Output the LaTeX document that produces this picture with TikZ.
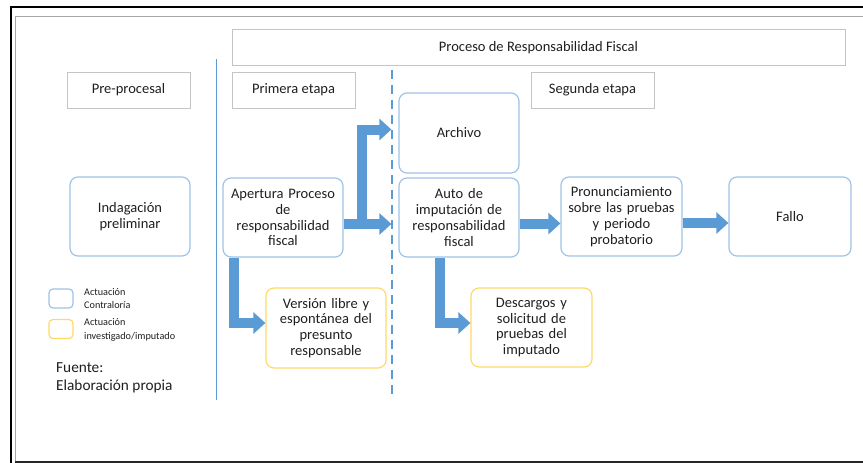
\documentclass[tikz,border=0pt]{standalone}
\usepackage{fontspec}
\setmainfont{Carlito}
\usetikzlibrary{arrows.meta}
\definecolor{txt}{HTML}{1F1F1F}
\definecolor{bluebox}{HTML}{9DC3E6}
\definecolor{yelbox}{HTML}{FFD966}
\definecolor{graybox}{HTML}{C4C4C4}
\definecolor{arrowblue}{HTML}{5B9BD5}
\definecolor{lineblue}{HTML}{5B9BD5}
\begin{document}
\begin{tikzpicture}[x=1pt,y=-1pt,
  font=\fontsize{14.5}{15.8}\selectfont, text=txt,
  header/.style={draw=graybox, line width=1pt, inner sep=0pt, align=center, minimum height=36pt},
  roundbox/.style={line width=1.2pt, rounded corners=8pt, inner sep=0pt, align=center, text width=116pt, minimum width=120pt, minimum height=79pt},
  bluenode/.style={roundbox, draw=bluebox},
  yellownode/.style={roundbox, draw=yelbox},
  legendbox/.style={line width=1.2pt, rounded corners=4pt, minimum width=24pt, minimum height=19pt, inner sep=0pt},
  legendtext/.style={font=\fontsize{10.2}{13.5}\selectfont, align=left, anchor=west, inner sep=0pt},
  bigarrow/.style={draw=arrowblue, line width=10pt, -{Triangle[width=21pt,length=12pt]}},
]
\useasboundingbox (0,0) rectangle (863,463);
% frame
\draw[black, line width=2pt] (10.5,463) -- (10.5,7) -- (863,7);
\draw[gray!70, line width=1pt] (15.5,462) -- (15.5,16) -- (863,16);
\draw[black!85, line width=1.5pt] (15,462) -- (863,462);

% separators
\draw[lineblue, line width=1.5pt] (216.5,59) coordinate (s1) -- (216.5,400) coordinate (s2);
\draw[lineblue, line width=2pt, dash pattern=on 9pt off 6pt] (392,70) coordinate (d1) -- (392,395) coordinate (d2);

% headers
\node[header, minimum width=613pt] (title) at (538.5,47.5) {Proceso de Responsabilidad Fiscal};
\node[header, minimum width=123pt] (pre) at (128.5,90) {Pre-procesal};
\node[header, minimum width=123pt] (primera) at (293.5,90) {Primera etapa};
\node[header, minimum width=123pt] (segunda) at (592.5,90) {Segunda etapa};

% boxes
\node[bluenode] (indag) at (130,216.5) {Indagación\\preliminar};
\node[bluenode] (apert) at (283,217.5) {Apertura Proceso\\de\\responsabilidad\\fiscal};
\node[bluenode, minimum height=80pt] (archivo) at (459,133) {Archivo};
\node[bluenode] (auto) at (459,217.5) {Auto de\\imputación de\\responsabilidad\\fiscal};
\node[bluenode, minimum width=121pt] (pron) at (621.5,216.5) {Pronunciamiento\\sobre las pruebas\\y periodo\\probatorio};
\node[bluenode, minimum width=122pt] (fallo) at (790,216.5) {Fallo};
\node[yellownode, minimum height=80pt] (version) at (326,328) {Versión libre y\\espontánea del\\presunto\\responsable};
\node[yellownode, minimum width=121pt] (desc) at (531.5,327.5) {Descargos y\\solicitud de\\pruebas del\\imputado};

% legend
\node[legendbox, draw=bluebox] (lgb) at (61,298.5) {};
\node[legendbox, draw=yelbox] (lgy) at (61,329) {};
\node[legendtext] (lgbt) at (84,298.5) {Actuación\\Contraloría};
\node[legendtext] (lgyt) at (84,330) {Actuación\\investigado/imputado};
\node[font=\fontsize{15.3}{18}\selectfont, align=left, anchor=west, inner sep=0pt] (fuente) at (56,378) {Fuente:\\Elaboración propia};

% arrows
\coordinate (junc) at ([xshift=18pt]apert.east |- 0,224);
\draw[bigarrow] (apert.east |- 0,224) -- ([xshift=-7pt]auto.west |- 0,224);
\draw[bigarrow] ([yshift=-5pt]junc) |- ([xshift=-7pt]archivo.west |- 0,129.5);
\draw[bigarrow] ([xshift=12pt]apert.south west) |- ([yshift=5pt]version.west);
\draw[bigarrow] ([xshift=-19pt]auto.south) |- ([yshift=4.5pt]desc.west);
\draw[bigarrow] (auto.east |- 0,223.5) -- (pron.west |- 0,223.5);
\draw[bigarrow] (pron.east |- 0,223) -- (fallo.west |- 0,223);
\end{tikzpicture}
\end{document}
